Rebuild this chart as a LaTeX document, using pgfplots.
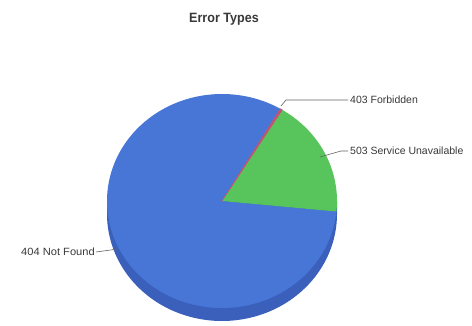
\documentclass[border=0pt]{standalone}
\usepackage{pgfplots}
\pgfplotsset{compat=1.18}
\usepackage{fontspec}
\usepackage{graphicx}
\setmainfont{Liberation Sans}
\definecolor{pieblue}{HTML}{4876D6}
\definecolor{sideblue}{HTML}{3B60BC}
\definecolor{piegreen}{HTML}{58C55C}
\definecolor{piered}{HTML}{C25070}
\definecolor{leader}{HTML}{606060}
\definecolor{txt}{HTML}{383838}
% slice values (percent)
\def\vForbidden{0.3}
\def\vUnavail{17.8}
\def\vNotFound{81.9}
% geometry (pixel units)
\def\cx{222}
\def\cy{201}
\def\rx{115}
\def\ry{107}
\def\dep{13}
\pgfmathsetmacro{\aA}{59.5}
\pgfmathsetmacro{\aB}{\aA-3.6*\vForbidden}
\pgfmathsetmacro{\aC}{\aB-3.6*\vUnavail}
\pgfmathsetmacro{\aD}{\aC-3.6*\vNotFound}
\begin{document}
\begin{tikzpicture}
\begin{axis}[
  scale only axis, width=472bp, height=326bp,
  xmin=0, xmax=472, ymin=0, ymax=326, y dir=reverse,
  hide axis, clip=false,
  font=\fontsize{10.5bp}{12bp}\selectfont,
]
\path (axis cs:0,0) rectangle (axis cs:472,326);
% side of the pie
\addplot[fill=sideblue, draw=none, domain=180:360, samples=120, variable=\t]
  ({\cx+\rx*cos(\t)}, {\cy+\dep-\ry*sin(\t)}) -- (axis cs:{\cx+\rx},\cy) -- (axis cs:{\cx-\rx},\cy) -- cycle;
% top face slices
\addplot[fill=pieblue, draw=none, domain=\aD:\aC, samples=200, variable=\t]
  ({\cx+\rx*cos(\t)}, {\cy-\ry*sin(\t)}) -- (axis cs:\cx,\cy) -- cycle;
\addplot[fill=piegreen, draw=none, domain=\aC:\aB, samples=60, variable=\t]
  ({\cx+\rx*cos(\t)}, {\cy-\ry*sin(\t)}) -- (axis cs:\cx,\cy) -- cycle;
\addplot[fill=piered, draw=piered, line width=0.5pt, domain=\aB:\aA, samples=5, variable=\t]
  ({\cx+\rx*cos(\t)}, {\cy-\ry*sin(\t)}) -- (axis cs:\cx,\cy) -- cycle;
% leader lines
\addplot[leader, line width=0.6pt] coordinates {(281,106) (286,100) (348,100)};
\addplot[leader, line width=0.6pt] coordinates {(320,157) (341,151) (348,151)};
\addplot[leader, line width=0.6pt] coordinates {(96,252) (118,249)};
% labels
\node[anchor=west, text=txt, inner sep=0pt] at (axis cs:350,100) {403 Forbidden};
\node[anchor=west, text=txt, inner sep=0pt] at (axis cs:350,151) {503 Service Unavailable};
\node[anchor=east, text=txt, inner sep=0pt] at (axis cs:95,252) {\scalebox{1.06}[1]{404 Not Found}};
\node[text=txt, inner sep=0pt, font=\fontsize{13.5bp}{15bp}\selectfont\bfseries] at (axis cs:224,19) {\scalebox{0.93}[1]{Error Types}};
\end{axis}
\end{tikzpicture}
\end{document}
